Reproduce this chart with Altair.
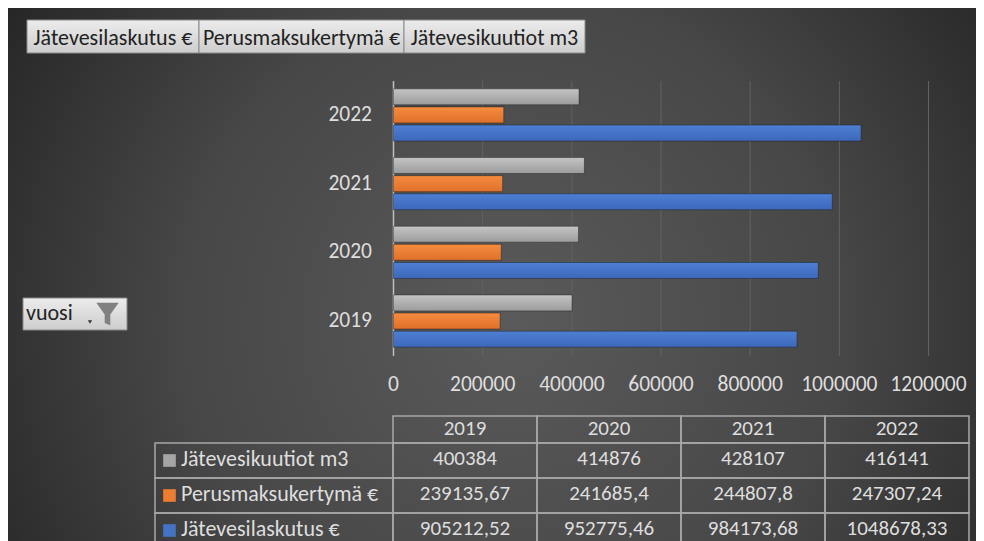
import altair as alt
import pandas as pd

# ---- data ----
years = ["2019", "2020", "2021", "2022"]
series = ["Jätevesikuutiot m3", "Perusmaksukertymä €", "Jätevesilaskutus €"]
kuutiot = [400384, 414876, 428107, 416141]
perusmaksu = [239135.67, 241685.4, 244807.8, 247307.24]
laskutus = [905212.52, 952775.46, 984173.68, 1048678.33]
x_ticks = [0, 200000, 400000, 600000, 800000, 1000000, 1200000]
field_buttons = ["Jätevesilaskutus €", "Perusmaksukertymä €", "Jätevesikuutiot m3"]
row_field = "vuosi"

rows = []
for s, vals in zip(series, [kuutiot, perusmaksu, laskutus]):
    for y, v in zip(years, vals):
        rows.append({"vuosi": y, "sarja": s, "arvo": v,
                     "teksti": str(v).replace(".", ",")})
df = pd.DataFrame(rows)
year_df = pd.DataFrame({"vuosi": years})
series_df = pd.DataFrame({"sarja": series})
tick_df = pd.DataFrame({"t": x_ticks})
one = pd.DataFrame({"a": [0]})

# ---- layout / style ----
W, H = 968, 533
FONT = "Carlito, Liberation Sans Narrow, Open Sans, sans-serif"
TXT = "#dedede"
LINE = "#a8a8a8"
series_colors = ["#a5a5a5", "#ed7d31", "#4472c4"]

xq = alt.Scale(domain=[0, 1200000], range=[385.5, 920.5], nice=False, zero=True)
yband = alt.Scale(domain=years[::-1], range=[72.6, 347.4],
                  paddingInner=0.24, paddingOuter=0.12)
yoff = alt.Scale(domain=series, paddingInner=0.12, paddingOuter=0)
tx = alt.Scale(domain=years, range=[385, 961], paddingInner=0, paddingOuter=0)
ty = alt.Scale(domain=series, range=[435, 540], paddingInner=0, paddingOuter=0)

def grad(top, bottom):
    return alt.LinearGradient(gradient="linear", x1=0, x2=0, y1=0, y2=1,
                              stops=[alt.GradientStop(offset=0, color=top),
                                     alt.GradientStop(offset=1, color=bottom)])

layers = []

# background
layers.append(
    alt.Chart(one).mark_rect(
        color=alt.RadialGradient(
            gradient="radial", x1=0.52, y1=0.55, r1=0, x2=0.52, y2=0.55, r2=0.62,
            stops=[alt.GradientStop(offset=0, color="#5a5a5a"),
                   alt.GradientStop(offset=0.55, color="#474747"),
                   alt.GradientStop(offset=1, color="#262626")])
    ).encode(x=alt.value(0), x2=alt.value(W), y=alt.value(0), y2=alt.value(H))
)

# gridlines
layers.append(
    alt.Chart(tick_df).transform_filter("datum.t > 0").mark_rule(
        color="#626262", strokeWidth=1
    ).encode(x=alt.X("t:Q", scale=xq, axis=None), y=alt.value(73), y2=alt.value(348))
)
# category axis line
layers.append(
    alt.Chart(tick_df).transform_filter("datum.t == 0").mark_rule(
        color="#bfbfbf", strokeWidth=1.5
    ).encode(x=alt.X("t:Q", scale=xq, axis=None), y=alt.value(73), y2=alt.value(348))
)
# value tick labels
layers.append(
    alt.Chart(tick_df).mark_text(font=FONT, fontSize=21.5, color=TXT, baseline="middle").encode(
        x=alt.X("t:Q", scale=xq, axis=None), y=alt.value(377),
        text=alt.Text("t:Q", format="d"))
)
# year labels
layers.append(
    alt.Chart(year_df).mark_text(font=FONT, fontSize=21.5, color=TXT, align="right",
                                 baseline="middle").encode(
        y=alt.Y("vuosi:N", scale=yband, axis=None), x=alt.value(364), text="vuosi:N")
)

# bars
bar_grads = [grad("#c4c4c4", "#9c9c9c"), grad("#f58c3f", "#e0702a"), grad("#4d7fd4", "#3d68ba")]
for name, g in zip(series, bar_grads):
    layers.append(
        alt.Chart(df).transform_filter(alt.datum.sarja == name).mark_bar(
            color=g, stroke="#151515", strokeOpacity=0.4, strokeWidth=1
        ).encode(
            x=alt.X("arvo:Q", scale=xq, axis=None),
            y=alt.Y("vuosi:N", scale=yband, axis=None),
            yOffset=alt.YOffset("sarja:N", scale=yoff),
        )
    )

# data table
layers.append(
    alt.Chart(year_df).mark_rect(fill="transparent", stroke=LINE, strokeWidth=1.5).encode(
        x=alt.X("vuosi:N", scale=tx, axis=None), y=alt.value(408), y2=alt.value(435))
)
layers.append(
    alt.Chart(df).mark_rect(fill="transparent", stroke=LINE, strokeWidth=1.5).encode(
        x=alt.X("vuosi:N", scale=tx, axis=None), y=alt.Y("sarja:N", scale=ty, axis=None))
)
layers.append(
    alt.Chart(series_df).mark_rect(fill="transparent", stroke=LINE, strokeWidth=1.5).encode(
        y=alt.Y("sarja:N", scale=ty, axis=None), x=alt.value(147), x2=alt.value(385))
)
layers.append(
    alt.Chart(year_df).mark_text(font=FONT, fontSize=21, color=TXT, baseline="middle").encode(
        x=alt.X("vuosi:N", scale=tx, axis=None), y=alt.value(421), text="vuosi:N")
)
layers.append(
    alt.Chart(df).mark_text(font=FONT, fontSize=21, color=TXT, baseline="middle", dy=-2).encode(
        x=alt.X("vuosi:N", scale=tx, axis=None), y=alt.Y("sarja:N", scale=ty, axis=None),
        text="teksti:N")
)
layers.append(
    alt.Chart(series_df).mark_square(size=160, opacity=1, filled=True).encode(
        y=alt.Y("sarja:N", scale=ty, axis=None), x=alt.value(161.5),
        color=alt.Color("sarja:N", scale=alt.Scale(domain=series, range=series_colors),
                        legend=None))
)
layers.append(
    alt.Chart(series_df).mark_text(font=FONT, fontSize=22, color=TXT, align="left",
                                   baseline="middle", dy=-2).encode(
        y=alt.Y("sarja:N", scale=ty, axis=None), x=alt.value(173), text="sarja:N")
)

# field buttons
btn_grad = grad("#ececec", "#cdcdcd")
btn_pos = [(19, 191), (191, 396), (396, 577)]
for label, (x0, x1) in zip(field_buttons, btn_pos):
    bdf = pd.DataFrame({"nimi": [label]})
    layers.append(
        alt.Chart(bdf).mark_rect(color=btn_grad, stroke="#8a8a8a", strokeWidth=1).encode(
            x=alt.value(x0), x2=alt.value(x1), y=alt.value(12), y2=alt.value(45))
    )
    layers.append(
        alt.Chart(bdf).mark_text(font=FONT, fontSize=22, color="#222222",
                                 baseline="middle").encode(
            x=alt.value((x0 + x1) / 2), y=alt.value(29.5), text="nimi:N")
    )

# row field button
rdf = pd.DataFrame({"nimi": [row_field]})
layers.append(
    alt.Chart(rdf).mark_rect(color=btn_grad, stroke="#8a8a8a", strokeWidth=1).encode(
        x=alt.value(15), x2=alt.value(119), y=alt.value(290), y2=alt.value(322))
)
layers.append(
    alt.Chart(rdf).mark_text(font=FONT, fontSize=22, color="#222222", align="left",
                             baseline="middle").encode(
        x=alt.value(18), y=alt.value(305), text="nimi:N")
)
layers.append(
    alt.Chart(rdf).mark_point(shape="triangle-down", size=18, filled=True,
                              color="#333333", opacity=1).encode(
        x=alt.value(82), y=alt.value(314))
)
layers.append(
    alt.Chart(rdf).mark_point(
        shape="M-1,-1L1,-1L0.25,0.05L0.25,1L-0.25,0.8L-0.25,0.05Z",
        size=500, filled=True, color="#808080", opacity=1).encode(
        x=alt.value(99.5), y=alt.value(306))
)

chart = alt.layer(*layers).resolve_scale(
    x="independent", y="independent", color="independent"
).properties(
    width=W, height=H, autosize="none", padding=0, background="#2e2e2e"
).configure_view(stroke=None)

chart.save("out.html", embed_options={"renderer": "svg", "actions": False})
